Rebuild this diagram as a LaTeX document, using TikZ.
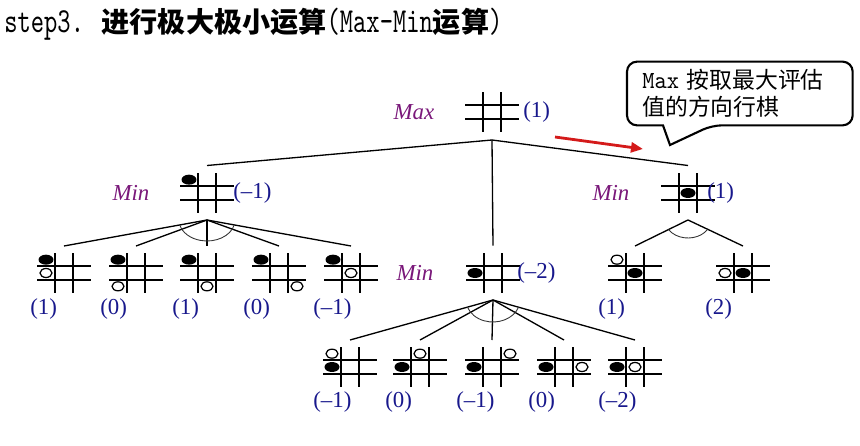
\documentclass[tikz,border=0pt]{standalone}
\usepackage{fontspec}
\setmainfont{Liberation Serif}
\newfontfamily\cjk{Noto Sans CJK SC}
\newfontfamily\titlemonofont{lmmono10-regular.otf}[FakeStretch=0.72]
\newfontfamily\notemonofont{lmmono10-regular.otf}[FakeStretch=0.95]
\usetikzlibrary{shapes.geometric,arrows.meta,calc}

\definecolor{minpurple}{RGB}{122,24,122}
\definecolor{valblue}{RGB}{24,24,140}
\definecolor{arrowred}{RGB}{212,26,26}

\newcommand{\titlemono}{\fontsize{20}{24}\titlemonofont\mdseries}
\newcommand{\titlecjk}{\fontsize{16}{20}\cjk\bfseries}
\newcommand{\calmono}{\fontsize{14}{15.4}\notemonofont}

\tikzset{
    boardnode/.style={minimum width=1.08cm, minimum height=0.8cm, inner sep=0pt, outer sep=0pt},
    gridline/.style={line width=1pt},
    blk/.style={ellipse, fill=black, minimum width=0.3cm, minimum height=0.2cm, inner sep=0pt},
    wht/.style={ellipse, draw=black, fill=white, line width=0.7pt, minimum width=0.24cm, minimum height=0.18cm, inner sep=0pt},
    tree/.style={line width=0.75pt},
    ang/.style={line width=0.5pt, black!80},
    player/.style={font=\fontsize{13}{15}\selectfont\itshape, text=minpurple, inner sep=0pt},
    val/.style={font=\fontsize{13}{15}\selectfont, text=valblue, inner sep=0pt, anchor=west},
    note/.style={font=\fontsize{13}{15.4}\cjk, align=left, text width=3.9cm, inner xsep=0.3cm, inner ysep=0pt, minimum height=1.26cm, anchor=west},
    notebox/.style={line width=1.2pt},
    redarrow/.style={arrowred, line width=1.6pt, -{Triangle[length=0.24cm, width=0.2cm]}},
}

% 棋盘: 名字, 中心 (x,y)
\newcommand{\board}[2]{%
    \node[boardnode] (#1) at (#2) {};
    \draw[gridline] ([yshift=0.133cm]#1.west) -- ([yshift=0.133cm]#1.east)
                    ([yshift=-0.133cm]#1.west) -- ([yshift=-0.133cm]#1.east)
                    ([xshift=-0.18cm]#1.north) -- ([xshift=-0.18cm]#1.south)
                    ([xshift=0.18cm]#1.north) -- ([xshift=0.18cm]#1.south);
}
% 棋子: 列/行/样式 (-1 = 左/上)
\newcommand{\stones}[2]{%
    \foreach \sx/\sy/\sc [count=\sk] in {#2}
        \node[\sc] (#1-\sk) at ($(#1)+(\sx*18,\sy*13.33)$) {};
}

\begin{document}
\begin{tikzpicture}[x=0.02cm, y=-0.02cm]
    % --- 画布: 像素坐标, y 向下 ---
    \useasboundingbox (0,0) rectangle (860,446);

    % --- 标题 ---
    \node[anchor=west, inner sep=0pt] (title) at (4,24)
        {\titlemono step3. \titlecjk 进行极大极小运算\titlemono (Max-Min\titlecjk 运算\titlemono )};

    % --- Max 层 ---
    \board{maxB}{492,112}
    \node[player] (maxLab) at (414,112) {Max};
    \node[val] (maxVal) at (523,112) {(1)};

    % --- Min 层 ---
    \board{minL}{207,193}
    \stones{minL}{-1/-1/blk}
    \board{minM}{493,273}
    \stones{minM}{-1/0/blk}
    \board{minR}{688,193}
    \stones{minR}{0/0/blk}

    \node[player] (minLLab) at (131,193) {Min};
    \node[val] (minLVal) at (233,193) {(–1)};
    \node[player] (minMLab) at (415,273) {Min};
    \node[val] (minMVal) at (517,273) {(–2)};
    \node[player] (minRLab) at (611,193) {Min};
    \node[val] (minRVal) at (707,193) {(1)};

    % --- 左边子节点 ---
    \board{L1}{64,273}   \stones{L1}{-1/-1/blk, -1/0/wht}
    \board{L2}{136,273}  \stones{L2}{-1/-1/blk, -1/1/wht}
    \board{L3}{207,273}  \stones{L3}{-1/-1/blk, 0/1/wht}
    \board{L4}{279,273}  \stones{L4}{-1/-1/blk, 1/1/wht}
    \board{L5}{351,273}  \stones{L5}{-1/-1/blk, 0/0/wht}

    % --- 右边子节点 ---
    \board{R1}{635,273}  \stones{R1}{-1/-1/wht, 0/0/blk}
    \board{R2}{743,273}  \stones{R2}{-1/0/wht, 0/0/blk}

    % --- 中间子节点 ---
    \board{B1}{350,367}  \stones{B1}{-1/0/blk, -1/-1/wht}
    \board{B2}{420,367}  \stones{B2}{-1/0/blk, 0/-1/wht}
    \board{B3}{492,367}  \stones{B3}{-1/0/blk, 1/-1/wht}
    \board{B4}{564,367}  \stones{B4}{-1/0/blk, 1/0/wht}
    \board{B5}{635,367}  \stones{B5}{-1/0/blk, 0/0/wht}

    % --- 估值 ---
    \foreach \nm/\xx/\tx in {L1/30/(1), L2/100/(0), L3/172/(1), L4/243/(0), L5/313/(–1), R1/598/(1), R2/705/(2)}
        \node[val] (v\nm) at (\xx,309) {\tx};
    \foreach \nm/\xx/\tx in {B1/313/(–1), B2/385/(0), B3/456/(–1), B4/528/(0), B5/598/(–2)}
        \node[val] (v\nm) at (\xx,402) {\tx};

    % --- 树枝 ---
    \coordinate (maxJ) at ([yshift=-0.16cm]maxB.south);
    \foreach \ch in {minL,minM,minR}
        \draw[tree] (maxJ) -- ([yshift=0.15cm]\ch.north);

    \coordinate (minLJ) at ([yshift=-0.14cm]minL.south);
    \foreach \ch in {L1,L2,L3,L4,L5}
        \draw[tree] (minLJ) -- ([yshift=0.14cm]\ch.north);
    \draw[ang] ($(minLJ)+(13.6:28 and 21)$) arc[start angle=13.6, end angle=166.4, x radius=28, y radius=21];

    \coordinate (minRJ) at ([yshift=-0.14cm]minR.south);
    \foreach \ch in {R1,R2}
        \draw[tree] (minRJ) -- ([yshift=0.14cm]\ch.north);
    \draw[ang] ($(minRJ)+(32:23 and 18)$) arc[start angle=32, end angle=148, x radius=23, y radius=18];

    \coordinate (minMJ) at ([yshift=-0.14cm]minM.south);
    \foreach \ch in {B1,B2,B3,B4,B5}
        \draw[tree] (minMJ) -- ([yshift=0.14cm]\ch.north);
    \draw[ang] ($(minMJ)+(19:27 and 22)$) arc[start angle=19, end angle=161, x radius=27, y radius=22];

    % --- 说明框 ---
    \node[note] (note) at (627,93.5) {{\calmono Max }按取最大评估\\值的方向行棋};
    \coordinate (ptL) at ([xshift=0.72cm]note.south west);
    \coordinate (ptR) at ([xshift=1.7cm]note.south west);
    \coordinate (tip) at (670,145);
    \draw[notebox] (ptL) [rounded corners=0.2cm] -- (note.south west) -- (note.north west)
        -- (note.north east) -- (note.south east) -- (ptR) [sharp corners] -- (tip) -- cycle;

    % --- 红色箭头 ---
    \coordinate (arS) at (555,137);
    \coordinate (arE) at (643,149);
    \draw[redarrow] (arS) -- (arE);
\end{tikzpicture}
\end{document}
